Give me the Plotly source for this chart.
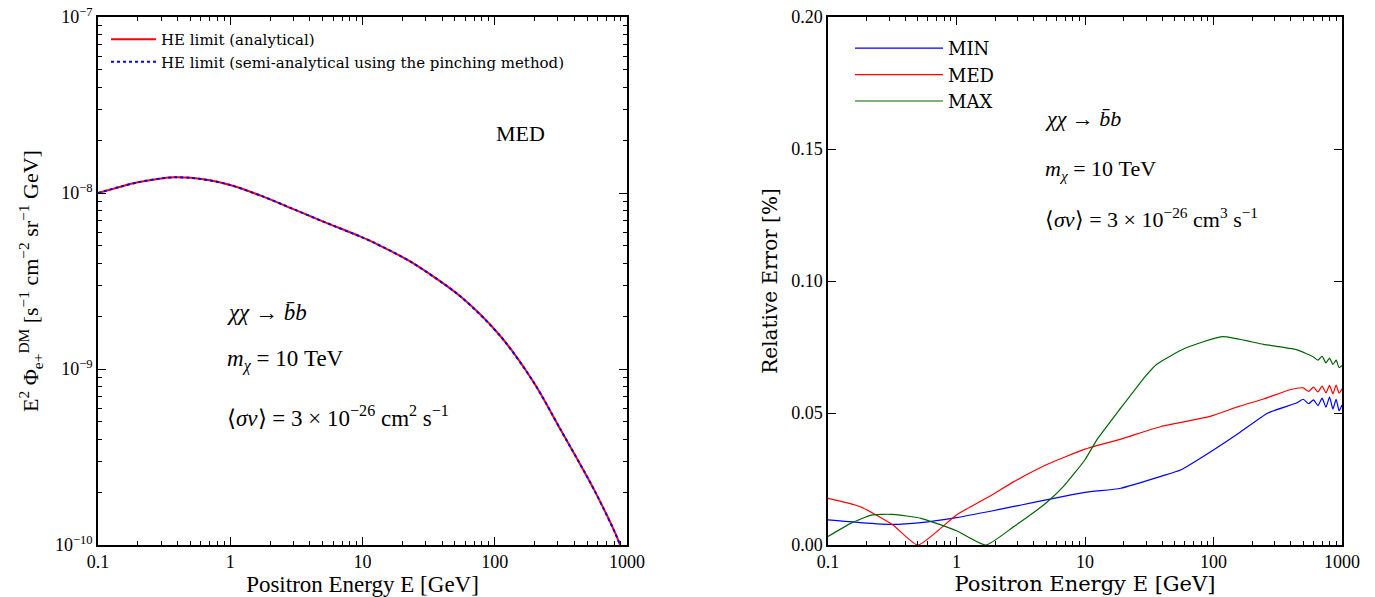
import plotly.graph_objects as go
from plotly.subplots import make_subplots

# ---------------- data: left panel (E^2 flux, MED) ----------------
E_left = [0.1, 0.15, 0.2, 0.3, 0.38, 0.5, 0.7, 1.0, 1.74, 3.0, 5.0, 9.66, 12.5,
          23.1, 55.2, 111, 199, 316, 566, 877, 950]
flux_analytical = [1.0e-8, 1.09e-8, 1.15e-8, 1.21e-8, 1.227e-8, 1.22e-8, 1.18e-8,
                   1.11e-8, 9.6e-9, 8.1e-9, 6.9e-9, 5.65e-9, 5.18e-9, 4.07e-9,
                   2.58e-9, 1.53e-9, 8.3e-10, 4.5e-10, 2.05e-10, 1.02e-10, 8.0e-11]
flux_pinching = [1.0e-8, 1.09e-8, 1.15e-8, 1.21e-8, 1.227e-8, 1.22e-8, 1.18e-8,
                 1.11e-8, 9.6e-9, 8.1e-9, 6.9e-9, 5.65e-9, 5.18e-9, 4.07e-9,
                 2.58e-9, 1.53e-9, 8.3e-10, 4.5e-10, 2.05e-10, 1.02e-10, 8.0e-11]

# ---------------- data: right panel (relative error) ----------------
E_min = [0.1, 0.177, 0.32, 0.53, 1.0, 1.8, 2.8, 10, 19, 39, 56, 100, 158, 265,
         442, 500, 550, 600, 650, 700, 750, 800, 850, 900, 950, 1000]
err_min = [0.0095, 0.0085, 0.0078, 0.0085, 0.0104, 0.0127, 0.0146, 0.0199, 0.0215,
           0.026, 0.0285, 0.036, 0.0424, 0.050, 0.0538, 0.0552, 0.0535, 0.0550,
           0.0528, 0.0556, 0.0522, 0.0560, 0.0515, 0.0552, 0.0508, 0.0530]

E_med = [0.1, 0.177, 0.32, 0.5, 1.0, 1.8, 2.8, 5.0, 10, 19, 39, 94, 158, 245,
         400, 500, 550, 600, 650, 700, 750, 800, 850, 900, 950, 1000]
err_med = [0.0177, 0.0146, 0.0076, 0.0, 0.0114, 0.0184, 0.024, 0.0304, 0.0363,
           0.0401, 0.0449, 0.0487, 0.0525, 0.0553, 0.0589, 0.0595, 0.0582, 0.0598,
           0.0580, 0.0602, 0.0576, 0.0605, 0.0572, 0.0606, 0.0575, 0.0592]

E_max = [0.1, 0.15, 0.22, 0.32, 0.53, 1.0, 1.69, 2.8, 5.0, 6.8, 10, 12.4, 19,
         29.5, 36, 60, 117, 245, 442, 600, 650, 700, 750, 800, 850, 900, 950, 1000]
err_max = [0.0032, 0.0082, 0.0114, 0.0116, 0.0101, 0.0054, 0.0, 0.007, 0.016,
           0.0222, 0.0323, 0.0399, 0.0519, 0.0639, 0.0684, 0.0745, 0.0789, 0.076,
           0.074, 0.0712, 0.0700, 0.0715, 0.0690, 0.0708, 0.0684, 0.0700, 0.0672, 0.0680]

left_yticks = [1e-10, 1e-9, 1e-8, 1e-7]
left_yticktext = ["10<sup>−10</sup>", "10<sup>−9</sup>", "10<sup>−8</sup>", "10<sup>−7</sup>"]
left_yminor = [m * 10.0 ** e for e in (-10, -9, -8) for m in range(2, 10)]
xticks = [0.1, 1, 10, 100, 1000]
xticktext = ["0.1", "1", "10", "100", "1000"]
x_minor = [m * 10.0 ** e for e in (-1, 0, 1, 2) for m in range(2, 10)]
right_yticks = [0.0, 0.05, 0.10, 0.15, 0.20]

SERIF = "Liberation Serif"
VSERIF = "DejaVu Serif"

fig = make_subplots(rows=1, cols=2)

# left panel
fig.add_trace(go.Scatter(x=E_left, y=flux_analytical, mode="lines",
                         line=dict(color="#ff0000", width=2, shape="spline", smoothing=0.8),
                         name="HE limit (analytical)", legend="legend", legendrank=1), 1, 1)
fig.add_trace(go.Scatter(x=E_left, y=flux_pinching, mode="lines",
                         line=dict(color="#0000ff", width=2, dash="dot", shape="spline", smoothing=0.8),
                         name="HE limit (semi-analytical using the pinching method)",
                         legend="legend", legendrank=2), 1, 1)

# right panel
for rank, (xs, ys, col, nm) in enumerate(((E_min, err_min, "#0000ff", "MIN"),
                                          (E_med, err_med, "#ff0000", "MED"),
                                          (E_max, err_max, "#006400", "MAX"))):
    fig.add_trace(go.Scatter(x=xs, y=ys, mode="lines",
                             line=dict(color=col, width=1.2, shape="spline", smoothing=0.5),
                             name=nm, legend="legend2", legendrank=10 + rank), 1, 2)

# page is rendered with an 8px body margin: work in figure pixels = page pixels - 8
OFF = 8
W, H = 1375 - OFF, 597 - OFF
mt = 17 - OFF
mb = H - (545 - OFF)
ph = H - mt - mb


def px(xp):
    return (xp - OFF) / W


def py(yp):
    return 1 - (yp - OFF - mt) / ph


axis_common = dict(showline=True, mirror="ticks", linecolor="black", linewidth=1.5,
                   ticks="inside", tickcolor="black", ticklen=8, tickwidth=1,
                   showgrid=False, zeroline=False, automargin=False,
                   ticklabeloverflow="allow")
minor_x = dict(tickmode="array", tickvals=x_minor, ticks="inside", ticklen=4,
               tickcolor="black", showgrid=False)

fig.update_xaxes(type="log", range=[-1, 3], domain=[px(98), px(627)],
                 tickvals=xticks, ticktext=xticktext,
                 tickfont=dict(family=SERIF, size=18, color="black"),
                 minor=minor_x,
                 title=dict(text="Positron Energy E [GeV]",
                            font=dict(family=SERIF, size=23, color="black"), standoff=0),
                 row=1, col=1, **axis_common)
fig.update_yaxes(type="log", range=[-10, -7],
                 tickvals=left_yticks, ticktext=left_yticktext,
                 tickfont=dict(family=SERIF, size=18, color="black"),
                 minor=dict(tickmode="array", tickvals=left_yminor, ticks="inside",
                            ticklen=4, tickcolor="black", showgrid=False),
                 title=dict(text="E<sup>2</sup> Φ<sub>e+</sub><sup>DM</sup> [s<sup>−1</sup> cm<sup>−2</sup> sr<sup>−1</sup> GeV]",
                            font=dict(family=SERIF, size=22, color="black"), standoff=10),
                 row=1, col=1, **axis_common)

fig.update_xaxes(type="log", range=[-1, 3], domain=[px(828), px(1342)],
                 tickvals=xticks, ticktext=xticktext,
                 tickfont=dict(family=SERIF, size=18, color="black"),
                 minor=minor_x,
                 title=dict(text="Positron Energy E [GeV]",
                            font=dict(family=VSERIF, size=21, color="black"), standoff=0),
                 row=1, col=2, **axis_common)
fig.update_yaxes(range=[0, 0.2], tickvals=right_yticks, tickformat=".2f",
                 tickfont=dict(family=SERIF, size=18, color="black"),
                 title=dict(text="Relative Error [%]",
                            font=dict(family=VSERIF, size=20, color="black"), standoff=8),
                 row=1, col=2, **axis_common)

ann_font_l = dict(family=SERIF, size=23, color="black")
ann_font_r = dict(family=SERIF, size=22, color="black")
annotations = [
    dict(text="MED", x=px(520), y=py(133), font=dict(family=SERIF, size=22, color="black")),
    dict(text="<i>χχ</i> → <i>b̄b</i>", x=px(225), y=py(312), font=ann_font_l, xanchor="left"),
    dict(text="<i>m</i><sub><i>χ</i></sub> = 10 TeV", x=px(225), y=py(360), font=ann_font_l, xanchor="left"),
    dict(text="⟨<i>σv</i>⟩ = 3 × 10<sup>−26</sup> cm<sup>2</sup> s<sup>−1</sup>", x=px(225), y=py(416), font=ann_font_l, xanchor="left"),
    dict(text="<i>χχ</i> → <i>b̄b</i>", x=px(1043), y=py(118), font=ann_font_r, xanchor="left"),
    dict(text="<i>m</i><sub><i>χ</i></sub> = 10 TeV", x=px(1043), y=py(170), font=ann_font_r, xanchor="left"),
    dict(text="⟨<i>σv</i>⟩ = 3 × 10<sup>−26</sup> cm<sup>3</sup> s<sup>−1</sup>", x=px(1043), y=py(218), font=ann_font_r, xanchor="left"),
]
for a in annotations:
    a.update(xref="paper", yref="paper", showarrow=False, yanchor="middle")
    a.setdefault("xanchor", "center")

fig.update_layout(
    width=W, height=H,
    margin=dict(l=0, r=0, t=mt, b=mb, autoexpand=False),
    paper_bgcolor="white", plot_bgcolor="white",
    annotations=annotations,
    legend=dict(x=px(106), y=py(23), xanchor="left", yanchor="top", traceorder="normal",
                bgcolor="rgba(0,0,0,0)", font=dict(family=VSERIF, size=15, color="black"),
                tracegroupgap=0, itemwidth=45),
    legend2=dict(x=px(850), y=py(30), xanchor="left", yanchor="top", traceorder="normal",
                 bgcolor="rgba(0,0,0,0)", font=dict(family=VSERIF, size=18, color="black"),
                 tracegroupgap=0, itemwidth=88),
    showlegend=True,
)

fig.write_html("out.html")
